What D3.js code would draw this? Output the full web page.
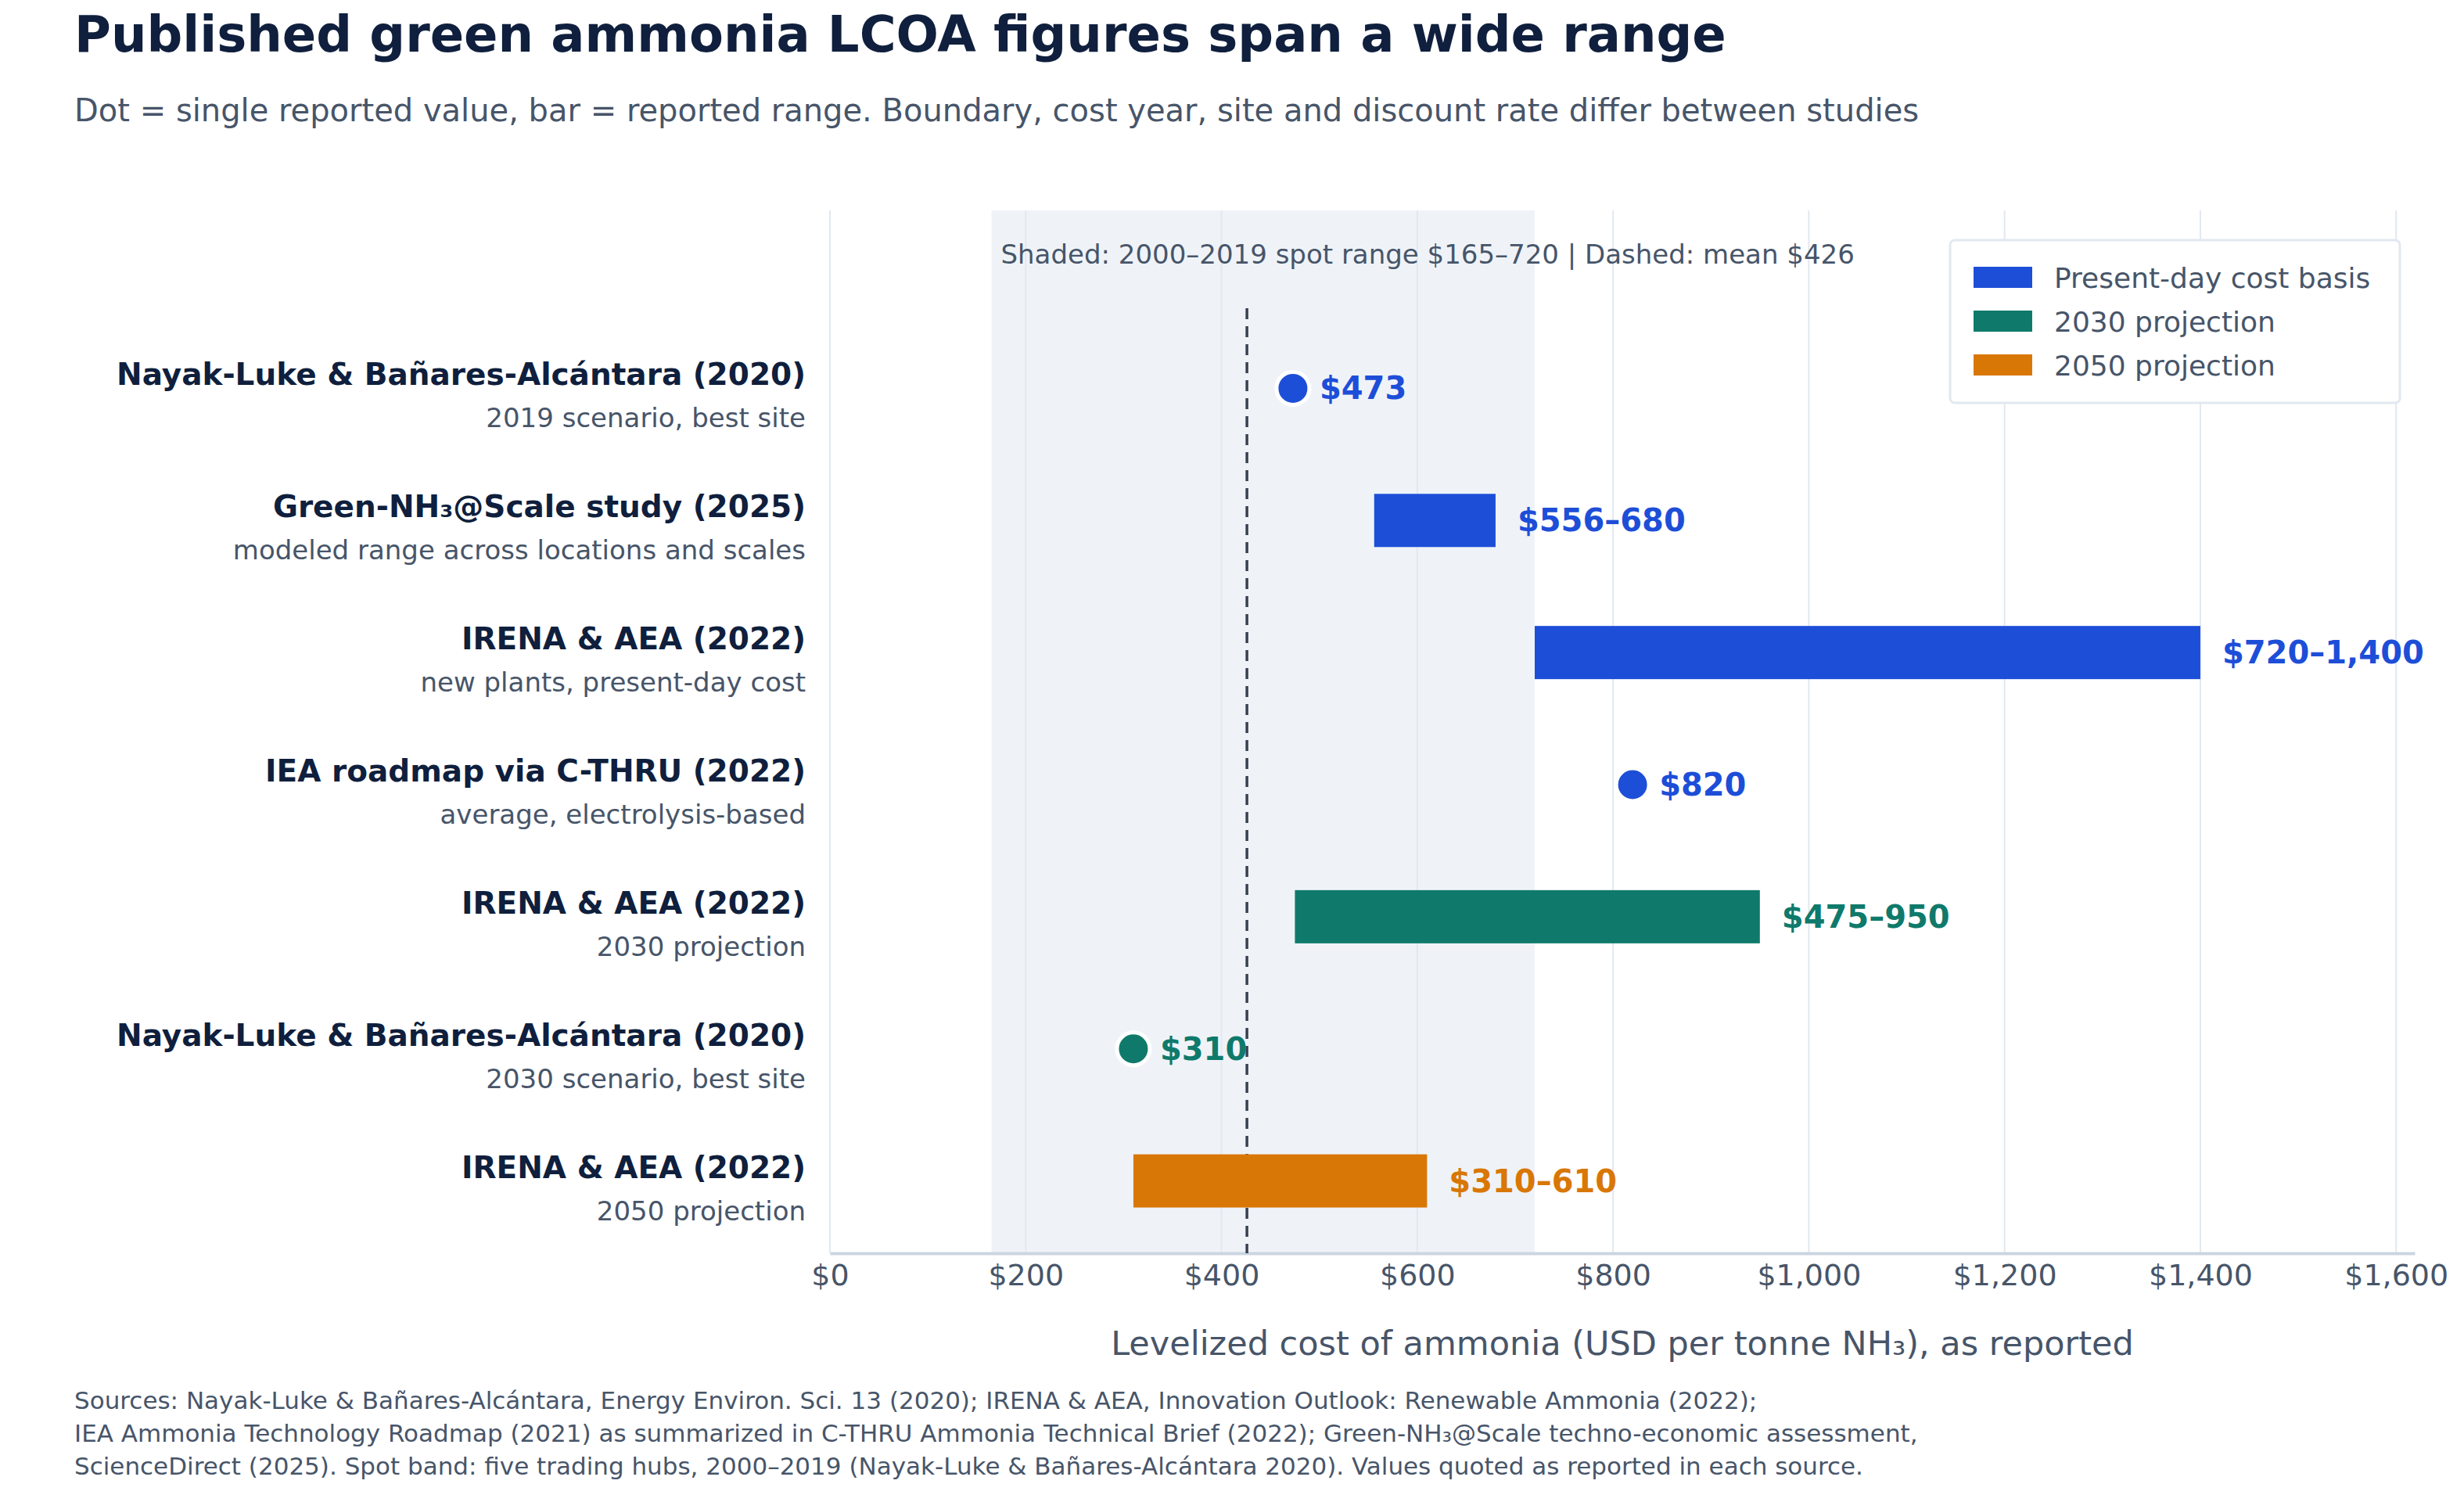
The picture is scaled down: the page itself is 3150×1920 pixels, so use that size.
<!DOCTYPE html>
<html><head><meta charset="utf-8">
<script src="https://cdn.jsdelivr.net/npm/d3@7"></script>
<style>body{margin:0;background:#fff;font-family:"DejaVu Sans",sans-serif}</style>
</head><body><div id="chart"></div>
<script>
// studies, top to bottom
const studies = ["Nayak-Luke & Bañares-Alcántara (2020)", "Green-NH₃@Scale study (2025)", "IRENA & AEA (2022)", "IEA roadmap via C-THRU (2022)", "IRENA & AEA (2022)", "Nayak-Luke & Bañares-Alcántara (2020)", "IRENA & AEA (2022)"];
const notes = ["2019 scenario, best site", "modeled range across locations and scales", "new plants, present-day cost", "average, electrolysis-based", "2030 projection", "2030 scenario, best site", "2050 projection"];
const lows = [473, 556, 720, 820, 475, 310, 310];
const highs = [473, 680, 1400, 820, 950, 310, 610];
const basis = ["present", "present", "present", "present", "2030", "2030", "2050"];
const labels = ["$473", "$556–680", "$720–1,400", "$820", "$475–950", "$310", "$310–610"];
const legendKeys = ["present", "2030", "2050"];
const legendNames = ["Present-day cost basis", "2030 projection", "2050 projection"];
const spotRange = [165, 720];
const spotMean = 426;
const xTicks = [0, 200, 400, 600, 800, 1000, 1200, 1400, 1600];

const W = 3150, H = 1920;
const plot = {left: 1061, right: 3087, top: 269, bottom: 1602};
const color = d3.scaleOrdinal().domain(legendKeys).range(["#1d4ed8", "#0f7a6b", "#d97706"]);

const svg = d3.select("#chart").append("svg").attr("width", W).attr("height", H);

const x = d3.scaleLinear().domain([0, 1619]).range([plot.left, plot.right]);
const y = d3.scaleBand().domain(d3.range(studies.length)).range([412, 1594]);
const fmt = d => "$" + d3.format(",")(d);

// header
svg.append("text").attr("x", 95).attr("y", 66).attr("font-size", 64).attr("font-weight", "bold")
    .attr("fill", "#0f1f3d").text("Published green ammonia LCOA figures span a wide range");
svg.append("text").attr("x", 95).attr("y", 155).attr("font-size", 40).attr("fill", "#475569")
    .text("Dot = single reported value, bar = reported range. Boundary, cost year, site and discount rate differ between studies");

// spot band
svg.append("rect").attr("x", x(spotRange[0])).attr("y", plot.top)
    .attr("width", x(spotRange[1]) - x(spotRange[0])).attr("height", plot.bottom - plot.top)
    .attr("fill", "#eff3f8");

// grid
svg.append("g").selectAll("line").data(xTicks).join("line")
    .attr("x1", d => x(d)).attr("x2", d => x(d)).attr("y1", plot.top).attr("y2", plot.bottom)
    .attr("stroke", "#e2e8f0").attr("stroke-width", 2);

// axis
const axis = svg.append("g").attr("transform", `translate(0,${plot.bottom})`)
    .call(d3.axisBottom(x).tickValues(xTicks).tickFormat(fmt).tickSize(0).tickPadding(14));
axis.select(".domain").attr("stroke", "#cbd5e1").attr("stroke-width", 4);
axis.selectAll("text").attr("font-size", 38).attr("fill", "#475569").attr("font-family", "DejaVu Sans");
svg.append("text").attr("x", (plot.left + plot.right) / 2).attr("y", 1732).attr("text-anchor", "middle")
    .attr("font-size", 43).attr("fill", "#475569").text("Levelized cost of ammonia (USD per tonne NH₃), as reported");

// mean line
svg.append("line").attr("x1", x(spotMean)).attr("x2", x(spotMean)).attr("y1", 394).attr("y2", plot.bottom)
    .attr("stroke", "#374151").attr("stroke-width", 3.5).attr("stroke-dasharray", "14,9");
svg.append("text").attr("x", x(spotRange[0]) + 12).attr("y", 337).attr("font-size", 34).attr("fill", "#475569")
    .text(`Shaded: 2000–2019 spot range $${spotRange[0]}–${spotRange[1]}  |  Dashed: mean $${spotMean}`);

// rows
const rows = svg.append("g").selectAll("g").data(studies).join("g")
    .attr("transform", (d, i) => `translate(0,${y(i) + y.bandwidth() / 2})`);
rows.append("text").attr("x", 1030).attr("y", -4).attr("text-anchor", "end").attr("font-size", 39)
    .attr("font-weight", "bold").attr("fill", "#0f1f3d").text(d => d);
rows.append("text").attr("x", 1030).attr("y", 50).attr("text-anchor", "end").attr("font-size", 34)
    .attr("fill", "#475569").text((d, i) => notes[i]);
rows.each(function(d, i) {
    const g = d3.select(this);
    const c = color(basis[i]);
    if (lows[i] === highs[i]) {
        g.append("circle").attr("cx", x(lows[i])).attr("cy", 0).attr("r", 21)
            .attr("fill", c).attr("stroke", "#fff").attr("stroke-width", 5);
    } else {
        g.append("rect").attr("x", x(lows[i])).attr("y", -34).attr("width", x(highs[i]) - x(lows[i]))
            .attr("height", 68).attr("fill", c);
    }
    g.append("text").attr("x", x(highs[i]) + (lows[i] === highs[i] ? 34 : 28)).attr("y", 0).attr("dy", "0.35em")
        .attr("font-size", 40).attr("font-weight", "bold").attr("fill", c).text(labels[i]);
});

// legend
const lg = svg.append("g").attr("transform", "translate(2493,307)");
lg.append("rect").attr("width", 575).attr("height", 208).attr("rx", 6).attr("fill", "#fff")
    .attr("stroke", "#e2e8f0").attr("stroke-width", 3);
legendKeys.forEach((k, i) => {
    lg.append("rect").attr("x", 30).attr("y", 34 + i * 56).attr("width", 75).attr("height", 27).attr("fill", color(k));
    lg.append("text").attr("x", 133).attr("y", 48 + i * 56).attr("dy", "0.35em").attr("font-size", 36)
        .attr("fill", "#475569").text(legendNames[i]);
});

// sources
const sources = ["Sources: Nayak-Luke & Bañares-Alcántara, Energy Environ. Sci. 13 (2020); IRENA & AEA, Innovation Outlook: Renewable Ammonia (2022);",
    "IEA Ammonia Technology Roadmap (2021) as summarized in C-THRU Ammonia Technical Brief (2022); Green-NH₃@Scale techno-economic assessment,",
    "ScienceDirect (2025). Spot band: five trading hubs, 2000–2019 (Nayak-Luke & Bañares-Alcántara 2020). Values quoted as reported in each source."];
svg.append("g").selectAll("text").data(sources).join("text")
    .attr("x", 95).attr("y", (d, i) => 1801 + i * 42).attr("font-size", 31).attr("fill", "#475569").text(d => d);
</script></body></html>
